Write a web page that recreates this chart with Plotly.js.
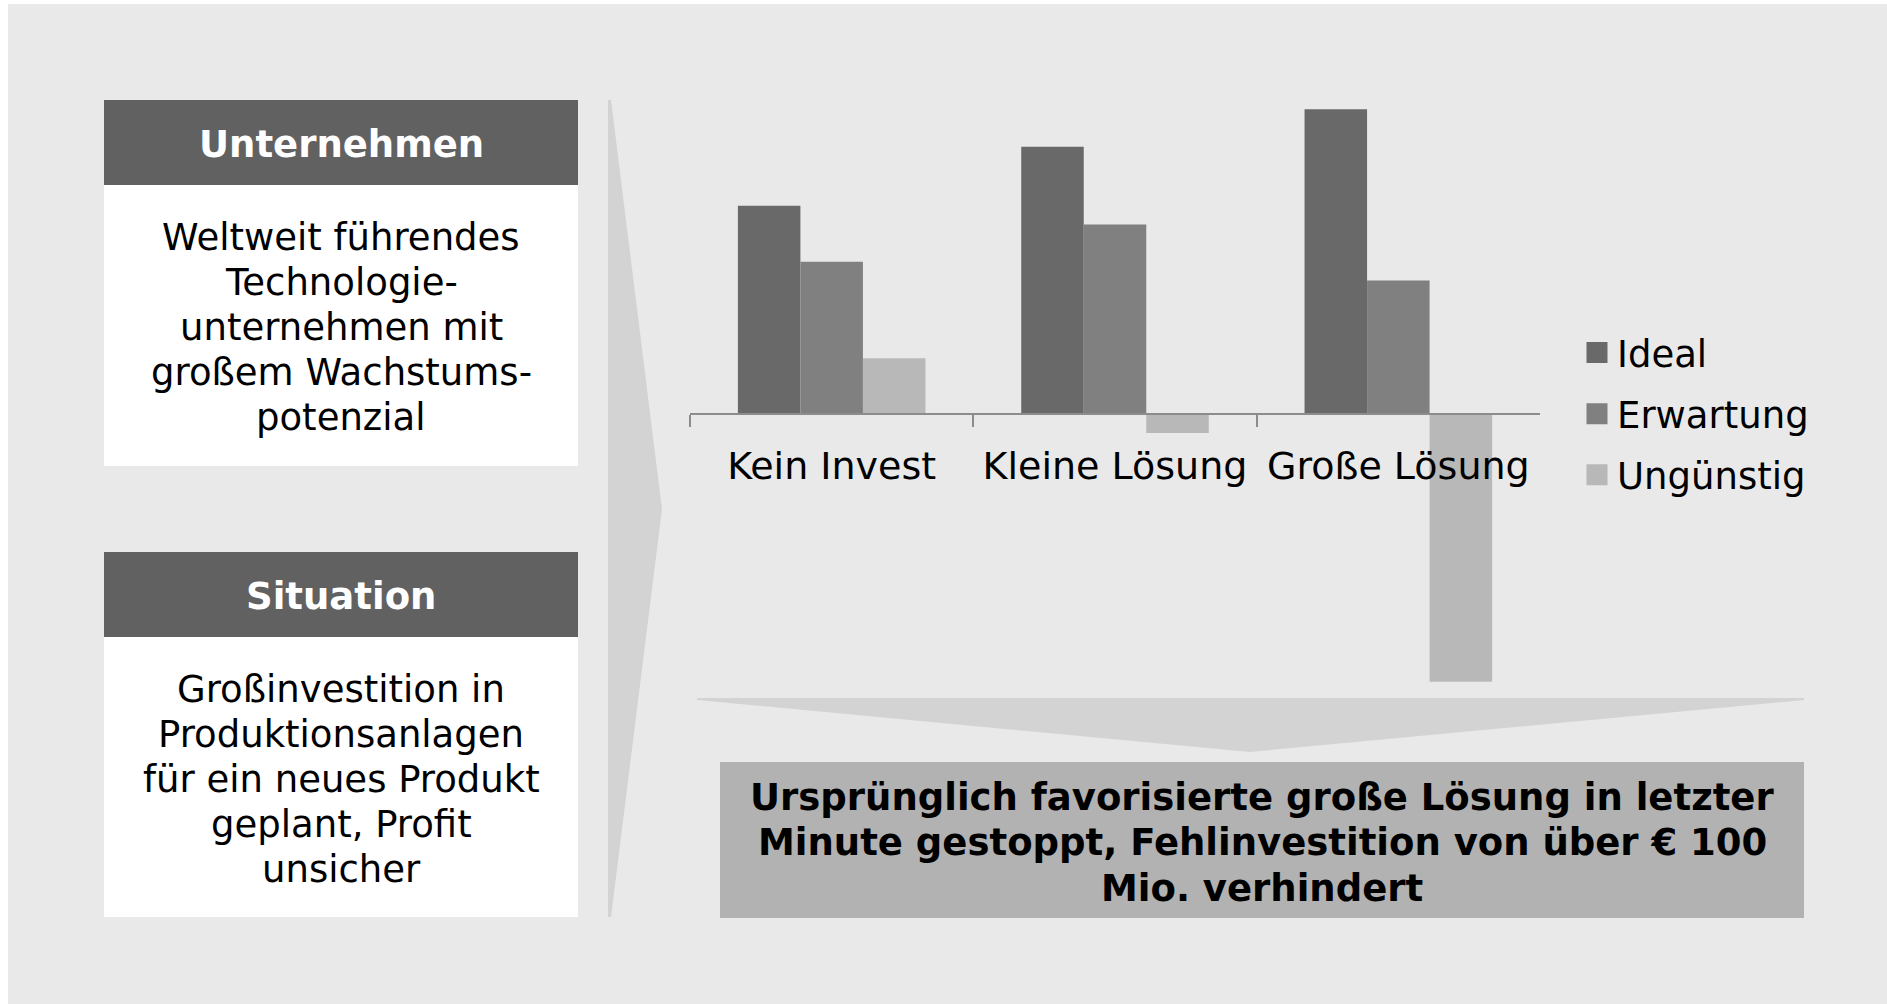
<!DOCTYPE html>
<html>
<head>
<meta charset="utf-8">
<script src="https://cdn.plot.ly/plotly-3.0.1.min.js"></script>
<style>html,body{margin:0;padding:0;background:#fff;}#chart{width:1887px;height:1004px;}</style>
</head>
<body>
<div id="chart"></div>
<script>
// ---- data ----
const categories = ["Kein Invest", "Kleine Lösung", "Große Lösung"];
const seriesNames = ["Ideal", "Erwartung", "Ungünstig"];
const ideal = [78, 100, 114];
const erwartung = [57, 71, 50];
const unguenstig = [21, -7, -100];
const seriesColors = ["#696969", "#808080", "#b8b8b8"];

const box1Title = "Unternehmen";
const box1Lines = ["Weltweit führendes", "Technologie-", "unternehmen mit", "großem Wachstums-", "potenzial"];
const box2Title = "Situation";
const box2Lines = ["Großinvestition in", "Produktionsanlagen", "für ein neues Produkt", "geplant, Profit", "unsicher"];
const resultLines = ["Ursprünglich favorisierte große Lösung in letzter", "Minute gestoppt, Fehlinvestition von über € 100", "Mio. verhindert"];

// ---- helpers ----
const W = 1887, H = 1004;
const FONT = "Verdana, 'DejaVu Sans', sans-serif";
const px = x => x / W;
const py = y => 1 - y / H;
function rect(x0, y0, x1, y1, color) {
  return {type: 'rect', xref: 'paper', yref: 'paper', x0: px(x0), x1: px(x1), y0: py(y1), y1: py(y0),
          fillcolor: color, line: {width: 0}, layer: 'below'};
}
function poly(points, color) {
  const d = points.map((p, i) => (i ? 'L' : 'M') + px(p[0]) + ',' + py(p[1])).join(' ') + ' Z';
  return {type: 'path', xref: 'paper', yref: 'paper', path: d, fillcolor: color, line: {width: 0}, layer: 'below'};
}
function label(text, xc, yc, size, color, bold) {
  return {xref: 'paper', yref: 'paper', x: px(xc), y: py(yc), xanchor: 'center', yanchor: 'middle',
          showarrow: false, text: bold ? '<b>' + text + '</b>' : text,
          font: {family: FONT, size: size, color: color}};
}

const shapes = [
  rect(8, 4, 1887, 1004, '#e9e9e9'),
  rect(104, 100, 578, 185, '#616161'),
  rect(104, 185, 578, 466, '#ffffff'),
  rect(104, 552, 578, 637, '#616161'),
  rect(104, 637, 578, 917, '#ffffff'),
  poly([[608, 100], [611, 100], [662, 509], [611, 917], [608, 917]], '#d3d3d3'),
  poly([[697, 698], [1804, 698], [1804, 700], [1250, 752], [697, 700]], '#d3d3d3'),
  rect(720, 762, 1804, 918, '#b2b2b2')
];

const annotations = [];
annotations.push(label(box1Title, 341, 145, 37, '#ffffff', true));
box1Lines.forEach((t, i) => annotations.push(label(t, 341, 237 + i * 45.2, 37, '#000000', false)));
annotations.push(label(box2Title, 341, 596, 37, '#ffffff', true));
box2Lines.forEach((t, i) => annotations.push(label(t, 341, 689.5 + i * 44.9, 37, '#000000', false)));
resultLines.forEach((t, i) => annotations.push(label(t, 1262, 797 + i * 45.7, 37, '#000000', true)));

const valuesBySeries = [ideal, erwartung, unguenstig];
const traces = valuesBySeries.map((vals, i) => ({
  type: 'bar', x: categories, y: vals, name: seriesNames[i],
  marker: {color: seriesColors[i], line: {width: 0}}, showlegend: false, hoverinfo: 'x+y+name'
}));
seriesNames.forEach((n, i) => traces.push({
  type: 'scatter', x: [null], y: [null], mode: 'markers', name: n, legendgroup: n,
  marker: {symbol: 'square', size: 16, color: seriesColors[i], line: {width: 5, color: seriesColors[i]}},
  hoverinfo: 'skip'
}));

const baseline = 414.3, unit = 2.675;
const layout = {
  width: W, height: H,
  margin: {l: 0, r: 0, t: 0, b: 0},
  paper_bgcolor: '#ffffff', plot_bgcolor: 'rgba(0,0,0,0)',
  barmode: 'group', bargap: 0.338, bargroupgap: 0,
  font: {family: FONT, size: 37, color: '#000000'},
  xaxis: {
    type: 'category', domain: [px(690), px(1540)], range: [-0.5, 2.5],
    anchor: 'free', position: py(baseline),
    showline: true, linecolor: '#8c8c8c', linewidth: 2,
    ticks: 'outside', ticklen: 12, tickwidth: 2, tickcolor: '#8c8c8c', tickson: 'boundaries',
    ticklabelstandoff: 18,
    showgrid: false, zeroline: false, fixedrange: true,
    tickfont: {family: FONT, size: 38, color: '#000000'}
  },
  yaxis: {
    domain: [py(700), py(100)],
    range: [-(700 - baseline) / unit, (baseline - 100) / unit],
    visible: false, showgrid: false, zeroline: false, fixedrange: true
  },
  showlegend: true,
  legend: {
    x: px(1577), xanchor: 'left', y: py(322), yanchor: 'top',
    bgcolor: 'rgba(0,0,0,0)', borderwidth: 0,
    traceorder: 'grouped', tracegroupgap: 10,
    font: {family: FONT, size: 37, color: '#000000'}
  },
  shapes: shapes,
  annotations: annotations
};

Plotly.newPlot('chart', traces, layout, {displayModeBar: false, staticPlot: true});
</script>
</body>
</html>
